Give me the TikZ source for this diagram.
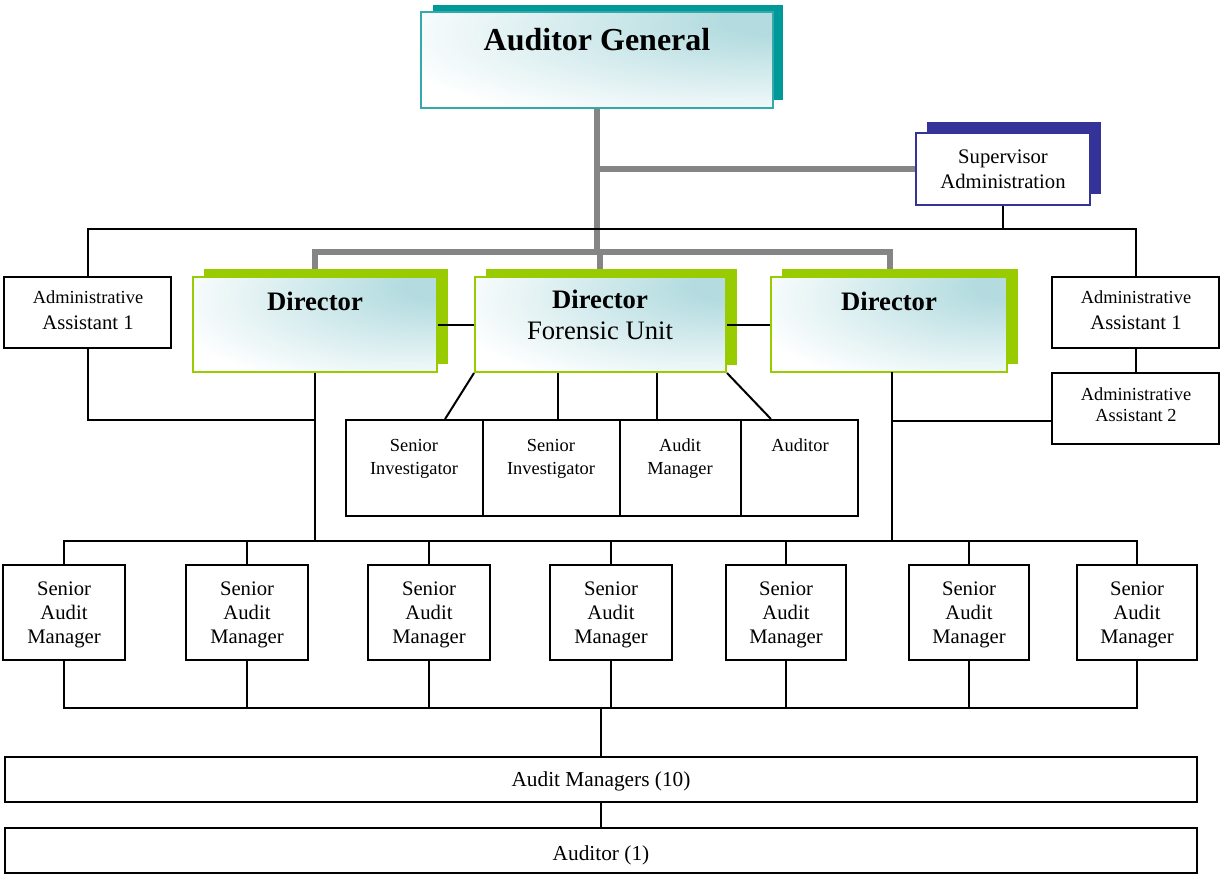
\documentclass[tikz,border=0pt]{standalone}
\usepackage{fontspec}
\setmainfont{Liberation Serif}
\usetikzlibrary{fit,calc}
\definecolor{agteal}{HTML}{009999}
\definecolor{agborder}{HTML}{33AAAA}
\definecolor{lgreen}{HTML}{99CC00}
\definecolor{navyblue}{HTML}{333399}
\definecolor{grayline}{HTML}{858585}
\definecolor{paleteal}{HTML}{B4DCE0}
\pgfdeclareradialshading{tealglow}{\pgfpoint{28bp}{22bp}}{color(0bp)=(paleteal); color(8bp)=(paleteal); color(46bp)=(white); color(100bp)=(white)}
\newcommand\fAG{\fontsize{24}{28}\selectfont\bfseries}
\newcommand\fDir{\fontsize{20}{24}\selectfont\bfseries}
\newcommand\fDirsub{\fontsize{20}{24}\selectfont}
\newcommand\fMid{\fontsize{15.5}{18}\selectfont}
\newcommand\fSmall{\fontsize{13.8}{16}\selectfont}
\newcommand\fBig{\fontsize{16}{19}\selectfont}
\tikzset{
  plainbox/.style={draw=black, line width=1.5pt, fill=white, inner sep=0pt},
  agbox/.style={draw=agborder, line width=1.5pt, shade, shading=tealglow, inner sep=0pt},
  dirbox/.style={draw=lgreen, line width=1.5pt, shade, shading=tealglow, inner sep=0pt},
  supbox/.style={draw=navyblue, line width=1.3pt, fill=white, inner sep=0pt},
  grayconn/.style={draw=grayline, line width=4.5pt, line join=miter},
  blackconn/.style={draw=black, line width=1.5pt},
  txt/.style={inner sep=0pt, anchor=base, align=center},
}
\begin{document}
\begin{tikzpicture}[x=0.75pt,y=-0.75pt]
\useasboundingbox (0,0) rectangle (1220,874);

% named junction coordinates
\coordinate (gbL) at (315,252);
\coordinate (gbR) at (890,252);
\coordinate (bbL) at (88,229);
\coordinate (bbR) at (1135,229);
\coordinate (jL) at (315,420);
\coordinate (jR) at (892,421);
\coordinate (rdown) at (892,372);
\coordinate (topbus) at (0,541);
\coordinate (botbus) at (0,708);

% shadows
\fill[agteal] (433,5) rectangle (783,100);
\fill[navyblue] (927,122) rectangle (1101,194);

% boxes (top part)
\node[agbox, fit={(421,12) (773,108)}] (ag) {};
\node[supbox, fit={(916,133) (1090,205)}] (sup) {};

% gray connectors
\draw[grayconn] (ag.south) -- (ag.south |- gbL);
\draw[grayconn] (ag.south |- sup.west) -- (sup.west);
\draw[grayconn] (315,277) -- (gbL) -- (gbR) -- (890,277);
\draw[grayconn] (600,252) -- (600,277);

% black top bus
\draw[blackconn] (sup.south) -- (sup.south |- bbL);
\node[plainbox, fit={(4,277) (171,348)}] (aaL) {};
\node[plainbox, fit={(1052,277) (1219,348)}] (aaR1) {};
\node[plainbox, fit={(1052,373) (1219,444)}] (aaR2) {};
\draw[blackconn] (aaL.north) -- (aaL.north |- bbL) -- (aaR1.north |- bbR) -- (aaR1.north);

% director shadows and boxes
\fill[lgreen] (204,269) rectangle (448,364);
\fill[lgreen] (486,269) rectangle (737,365);
\fill[lgreen] (782,269) rectangle (1018,364);
\node[dirbox, fit={(193,277) (437,372)}] (dirL) {};
\node[dirbox, fit={(475,277) (726,372)}] (dirC) {};
\node[dirbox, fit={(771,277) (1007,372)}] (dirR) {};

% forensic boxes
\node[plainbox, fit={(346,420) (483,516)}] (fsi1) {};
\node[plainbox, fit={(483,420) (620,516)}] (fsi2) {};
\node[plainbox, fit={(620,420) (741,516)}] (fam) {};
\node[plainbox, fit={(741,420) (858,516)}] (faud) {};

% senior audit managers
\foreach \i/\a/\b in {1/3/125, 2/186/308, 3/368/490, 4/550/672, 5/726/846, 6/909/1029, 7/1077/1197}{
  \node[plainbox, fit={(\a,565) (\b,660)}] (sam\i) {};
}
\node[plainbox, fit={(5,757) (1197,802)}] (am10) {};
\node[plainbox, fit={(5,828) (1197,873)}] (aud1) {};

% black connectors
\draw[blackconn] (dirL.east) -- (dirC.west);
\draw[blackconn] (dirC.east) -- (dirR.west);
\draw[blackconn] (aaR1.south) -- (aaR2.north);
\draw[blackconn] (aaL.south) |- (jL);
\draw[blackconn] (dirL.south) -- (dirL.south |- topbus);
\draw[blackconn] (rdown) -- (rdown |- topbus);
\draw[blackconn] (jR) -- (jR -| aaR2.west);
\draw[blackconn] (dirC.south west) -- ($(fsi1.north west)!0.72!(fsi1.north east)$);
\draw[blackconn] ($(fsi2.north west)!0.55!(fsi2.north east)$) coordinate (fa) -- (fa |- dirC.south);
\draw[blackconn] ($(fam.north west)!0.31!(fam.north east)$) coordinate (fb) -- (fb |- dirC.south);
\draw[blackconn] (dirC.south east) -- ($(faud.north west)!0.26!(faud.north east)$);
\draw[blackconn] (sam1.north) -- (sam1.north |- topbus) -- (sam7.north |- topbus) -- (sam7.north);
\draw[blackconn] (sam1.south) -- (sam1.south |- botbus) -- (sam7.south |- botbus) -- (sam7.south);
\foreach \i in {2,...,6}{
  \draw[blackconn] (sam\i.north) -- (sam\i.north |- topbus);
  \draw[blackconn] (sam\i.south) -- (sam\i.south |- botbus);
}
\draw[blackconn] (am10.north) -- (am10.north |- botbus);
\draw[blackconn] (am10.south) -- (aud1.north);

% texts
\node[txt, font=\fAG] (tag) at (597,51) {Auditor General};
\node[txt, font=\fDir] (tdl) at (315,310) {Director};
\node[txt, font=\fDir] (tdc) at (600,308) {Director};
\node[txt, font=\fDirsub] (tdc2) at (600,339) {Forensic Unit};
\node[txt, font=\fDir] (tdr) at (889,310) {Director};
\node[txt, font=\fMid] (ts1) at (1003,163) {Supervisor};
\node[txt, font=\fMid] (ts2) at (1003,188) {Administration};
\node[txt, font=\fSmall] (tal1) at (88,303) {Administrative};
\node[txt, font=\fMid] (tal2) at (88,329) {Assistant 1};
\node[txt, font=\fSmall] (tar1) at (1136,303) {Administrative};
\node[txt, font=\fMid] (tar2) at (1136,329) {Assistant 1};
\node[txt, font=\fSmall] (tar3) at (1136,400) {Administrative};
\node[txt, font=\fSmall] (tar4) at (1136,421) {Assistant 2};
\node[txt, font=\fSmall] (tf1) at (414,451) {Senior};
\node[txt, font=\fSmall] (tf2) at (414,474) {Investigator};
\node[txt, font=\fSmall] (tf3) at (551,451) {Senior};
\node[txt, font=\fSmall] (tf4) at (551,474) {Investigator};
\node[txt, font=\fSmall] (tf5) at (680,451) {Audit};
\node[txt, font=\fSmall] (tf6) at (680,474) {Manager};
\node[txt, font=\fSmall] (tf7) at (800,451) {Auditor};
\foreach \i in {1,...,7}{
  \path (sam\i.north) coordinate (c\i);
  \node[txt, font=\fMid] (tsa\i) at (c\i |- 0,595) {Senior};
  \node[txt, font=\fMid] (tsb\i) at (c\i |- 0,619) {Audit};
  \node[txt, font=\fMid] (tsc\i) at (c\i |- 0,643) {Manager};
}
\node[txt, font=\fBig] (tam) at (601,786) {Audit Managers (10)};
\node[txt, font=\fBig] (tau) at (601,860) {Auditor (1)};
\end{tikzpicture}
\end{document}
